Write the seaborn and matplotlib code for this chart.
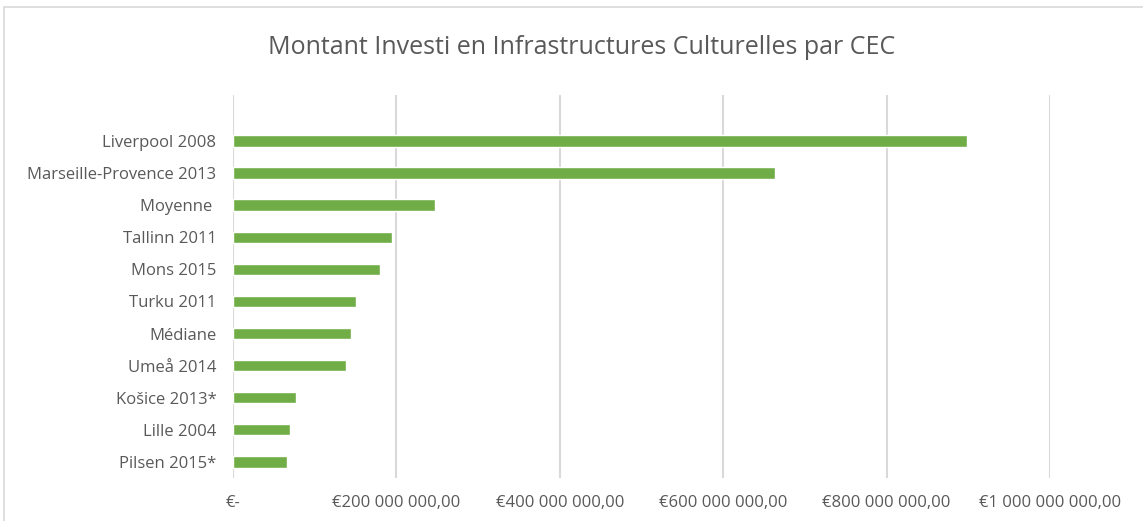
import matplotlib
matplotlib.use("Agg")
import matplotlib.pyplot as plt
import matplotlib.ticker as mticker
import seaborn as sns
import pandas as pd

# values (euros)
villes = ["Liverpool 2008", "Marseille-Provence 2013", "Moyenne ", "Tallinn 2011",
          "Mons 2015", "Turku 2011", "Médiane", "Umeå 2014", "Košice 2013*",
          "Lille 2004", "Pilsen 2015*"]
montants = [898e6, 663e6, 247e6, 195e6, 180e6, 150e6, 144e6, 138e6, 77.5e6, 70e6, 66.5e6]
x_ticks = [0, 200e6, 400e6, 600e6, 800e6, 1000e6]

df = pd.DataFrame({"ville": villes, "montant": montants})

sns.set_style("white")
plt.rcParams["font.family"] = ["Open Sans", "DejaVu Sans"]

fig = plt.figure(figsize=(11.43, 5.21), dpi=100)
ax = fig.add_axes([233 / 1143, 1 - 478 / 521, (1050 - 233) / 1143, (478 - 95) / 521])

sns.barplot(data=df, x="montant", y="ville", color="#70AD47", saturation=1,
            width=0.35, orient="h", ax=ax, zorder=3)

def euro(v, pos):
    if v == 0:
        return "€-"
    s = f"{v:,.2f}".replace(",", " ").replace(".", ",")
    return "€" + s

ax.set_xlim(0, 1000e6)
ax.set_ylim(10.5, -1.43)
ax.set_xticks(x_ticks)
ax.xaxis.set_major_formatter(mticker.FuncFormatter(euro))
ax.grid(axis="x", color="#D9D9D9", linewidth=1.5, zorder=0)
ax.set_xlabel("")
ax.set_ylabel("")
for s in ax.spines.values():
    s.set_visible(False)
ax.tick_params(axis="both", length=0, colors="#595959", labelsize=12)
ax.tick_params(axis="x", pad=12)
ax.tick_params(axis="y", pad=12)

fig.text(582 / 1143, 1 - 48 / 521,
         "Montant Investi en Infrastructures Culturelles par CEC",
         ha="center", va="center", fontsize=18, color="#595959")

# light frame around the chart area
frame = plt.Rectangle((4 / 1143, -0.05), 1.2, 1 - 7 / 521 + 0.05, transform=fig.transFigure,
                      fill=False, edgecolor="#D9D9D9", linewidth=1.2)
fig.patches.append(frame)

fig.savefig("out.png", dpi=100)
